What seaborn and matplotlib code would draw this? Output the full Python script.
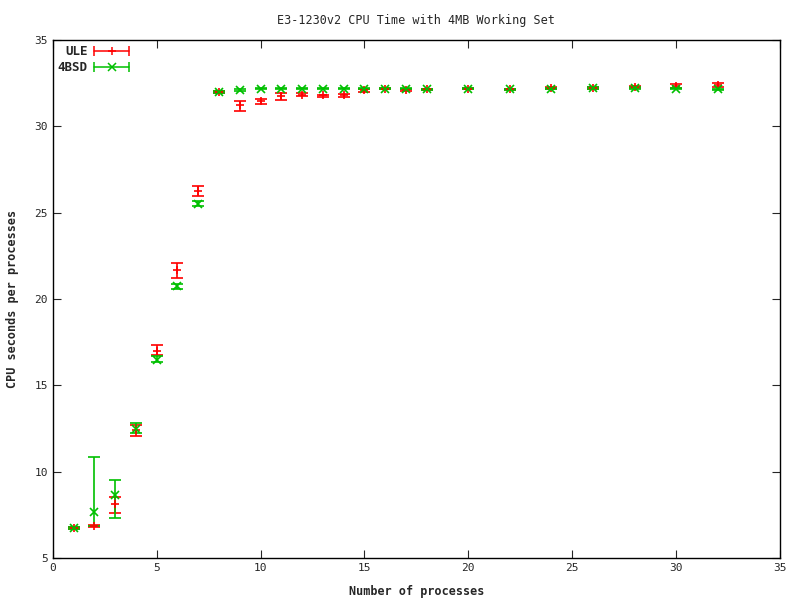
import numpy as np
import pandas as pd
import matplotlib
matplotlib.use("Agg")
import matplotlib.pyplot as plt
import seaborn as sns
from matplotlib.lines import Line2D
from matplotlib.legend_handler import HandlerBase

# valeurs
procs = [1, 2, 3, 4, 5, 6, 7, 8, 9, 10, 11, 12, 13, 14, 15, 16, 17, 18, 20, 22, 24, 26, 28, 30, 32]

ule_mean = [6.75, 6.85, 8.10, 12.40, 17.00, 21.70, 26.25, 32.00, 31.25, 31.45, 31.75, 31.85, 31.80, 31.80,
            32.10, 32.20, 32.10, 32.15, 32.20, 32.15, 32.25, 32.25, 32.30, 32.35, 32.40]
ule_low = [6.70, 6.80, 7.60, 12.05, 16.75, 21.20, 26.00, 31.95, 30.90, 31.30, 31.55, 31.75, 31.70, 31.70,
           32.00, 32.15, 32.05, 32.10, 32.15, 32.10, 32.20, 32.20, 32.25, 32.25, 32.30]
ule_high = [6.80, 6.90, 8.55, 12.70, 17.33, 22.10, 26.55, 32.05, 31.50, 31.60, 31.95, 31.95, 31.85, 31.90,
            32.20, 32.25, 32.15, 32.20, 32.25, 32.20, 32.30, 32.30, 32.35, 32.45, 32.50]

bsd_mean = [6.75, 7.65, 8.65, 12.45, 16.50, 20.75, 25.50, 32.00, 32.10, 32.20, 32.20, 32.20, 32.20, 32.20,
            32.20, 32.20, 32.20, 32.15, 32.20, 32.15, 32.20, 32.25, 32.25, 32.20, 32.15]
bsd_low = [6.70, 6.85, 7.30, 12.25, 16.35, 20.60, 25.38, 31.95, 32.05, 32.15, 32.15, 32.15, 32.15, 32.15,
           32.15, 32.15, 32.15, 32.10, 32.15, 32.10, 32.15, 32.20, 32.20, 32.15, 32.10]
bsd_high = [6.80, 10.85, 9.50, 12.80, 16.70, 20.90, 25.67, 32.05, 32.15, 32.25, 32.25, 32.25, 32.25, 32.25,
            32.25, 32.25, 32.25, 32.20, 32.25, 32.20, 32.25, 32.30, 32.30, 32.25, 32.20]

x_ticks = [0, 5, 10, 15, 20, 25, 30, 35]
y_ticks = [5, 10, 15, 20, 25, 30, 35]

df = pd.DataFrame({"procs": procs,
                   "ule": ule_mean, "ule_lo": ule_low, "ule_hi": ule_high,
                   "bsd": bsd_mean, "bsd_lo": bsd_low, "bsd_hi": bsd_high})


class ErrKey:
    # petite cle de legende facon gnuplot : trait horizontal, butees, marqueur au milieu
    def __init__(self, color, marker):
        self.color = color
        self.marker = marker


class ErrKeyHandler(HandlerBase):
    def create_artists(self, legend, h, xdescent, ydescent, width, height, fontsize, trans):
        y = height / 2 - ydescent
        x0, x1 = -xdescent, width - xdescent
        line = Line2D([x0, x1], [y, y], color=h.color, lw=1.1, transform=trans)
        caps = Line2D([x0, x1], [y, y], color=h.color, ls="none", marker="|",
                      markersize=7, markeredgewidth=1.1, transform=trans)
        mid = Line2D([(x0 + x1) / 2], [y], color=h.color, ls="none", marker=h.marker,
                     markersize=6, markeredgewidth=1.1, transform=trans)
        return [line, caps, mid]


sns.set_style("ticks")
plt.rcParams['font.family'] = ['DejaVu Sans Mono', 'DejaVu Sans']

fig = plt.figure(figsize=(8, 6), dpi=100)
ax = fig.add_axes([0.066, 0.07, 0.909, 0.863])

series = [("ULE", "ule", "#ff0000", "+"), ("4BSD", "bsd", "#00c000", "x")]
keys = []
for label, col, color, marker in series:
    yerr = np.vstack([df[col] - df[col + "_lo"], df[col + "_hi"] - df[col]])
    ax.errorbar(df["procs"], df[col], yerr=yerr, fmt=marker, color=color,
                ecolor=color, elinewidth=1.2, capsize=4, capthick=1.2,
                markersize=6, markeredgewidth=1.2)
    keys.append(ErrKey(color, marker))

ax.set_xlim(0, 35)
ax.set_ylim(5, 35)
ax.set_xticks(x_ticks)
ax.set_yticks(y_ticks)
ax.tick_params(direction="in", top=True, right=True, length=6, labelsize=8)
for s in ax.spines.values():
    s.set_linewidth(1)
    s.set_color("black")

ax.set_title("E3-1230v2 CPU Time with 4MB Working Set", fontsize=8.5, pad=12)
ax.set_xlabel("Number of processes", fontsize=8.5, fontweight="bold", labelpad=9)
ax.set_ylabel("CPU seconds per processes", fontsize=8.5, fontweight="bold", labelpad=11)

ax.legend(keys, [s[0] for s in series], handler_map={ErrKey: ErrKeyHandler()},
          loc="upper left", frameon=False, markerfirst=False,
          prop={"size": 9, "weight": "bold"}, handlelength=2.8, handletextpad=0.5,
          borderaxespad=0.0, labelspacing=0.25, borderpad=0.4)

fig.savefig("out.png", dpi=100)
